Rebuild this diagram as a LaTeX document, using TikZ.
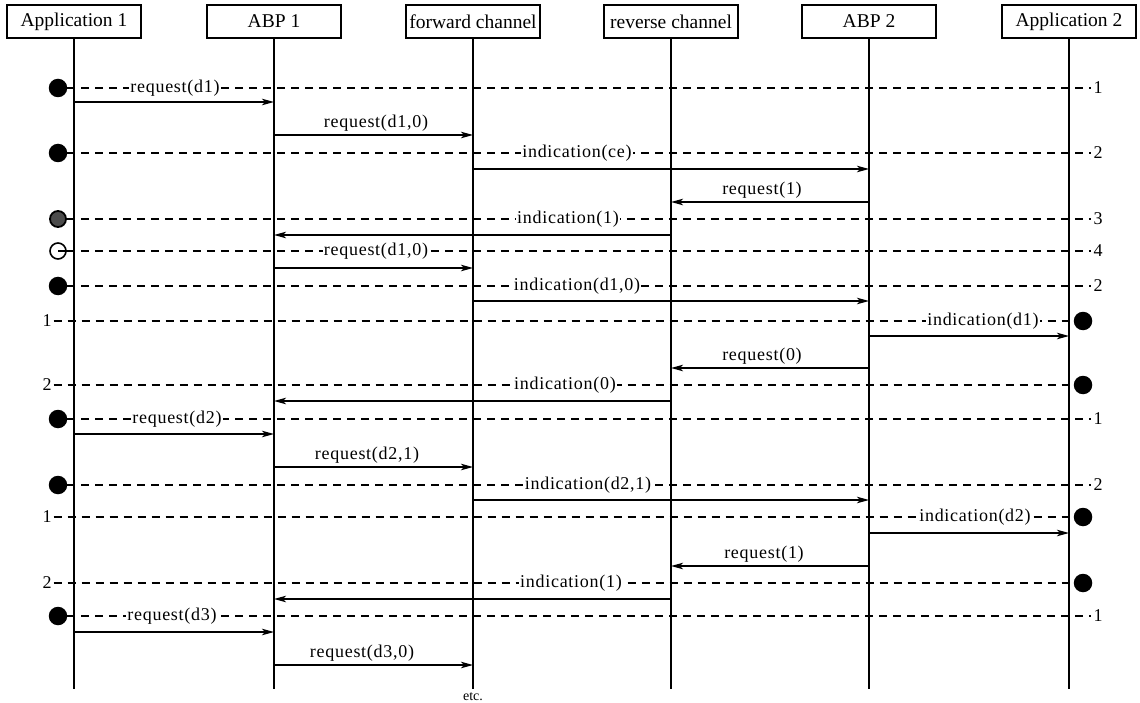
\documentclass[tikz,border=0pt]{standalone}
\usepackage{fontspec}
\setmainfont{Liberation Serif}
\newfontfamily\lblfont{Liberation Serif}[LetterSpace=4]
\usetikzlibrary{arrows.meta}
\begin{document}
\begin{tikzpicture}[x=1pt,y=-1pt,
  head/.style={draw,line width=1.1pt,minimum width=134pt,minimum height=33pt,inner sep=0pt,font=\fontsize{19.5}{21}\selectfont},
  life/.style={line width=1.5pt},
  msg/.style={line width=1.3pt,-{Stealth[length=12pt,width=6.5pt,inset=3pt]}},
  tick/.style={line width=1.2pt,dash pattern=on 8pt off 6pt},
  lbl/.style={font=\lblfont\fontsize{18}{20}\selectfont,inner sep=1pt},
  onl/.style={lbl,fill=white},
  dot/.style={circle,fill=black,minimum size=18.5pt,inner sep=0pt},
  num/.style={font=\fontsize{18}{20}\selectfont,inner sep=2pt},
]
\useasboundingbox (0,0) rectangle (1140,703);

% participants
\node[head] (h1) at (74,21.5)   {Application 1};
\node[head] (h2) at (274,21.5)  {ABP 1};
\node[head] (h3) at (473,21.5)  {forward channel};
\node[head] (h4) at (671,21.5)  {reverse channel};
\node[head] (h5) at (869,21.5)  {ABP 2};
\node[head] (h6) at (1069,21.5) {Application 2};
\foreach \i in {1,...,6} \draw[life] (h\i.south) -- (h\i |- 0,689);

% state rows: left marker, right marker, dashed line
\newcommand\sline[2]{\draw[tick] (#1) -- (#2);}
\node[dot] (la) at (58,88) {};      \node[num] (ra) at (1098,88) {1};   \sline{la}{ra}
\node[dot] (lb) at (58,153) {};     \node[num] (rb) at (1098,153) {2};  \sline{lb}{rb}
\node[circle,draw,line width=1.8pt,fill=black!70,minimum size=16pt,inner sep=0pt] (lc) at (58,219) {};
\node[num] (rc) at (1098,219) {3};  \sline{lc}{rc}
\node[circle,draw,line width=1.6pt,minimum size=16pt,inner sep=0pt] (ld) at (58,251) {};
\draw[line width=1.3pt] (ld.center) -- (ld.east);
\node[num] (rd) at (1098,251) {4};  \sline{ld}{rd}
\node[dot] (le) at (58,286) {};     \node[num] (re) at (1098,286) {2};  \sline{le}{re}
\node[num] (lf) at (47,321) {1};    \node[dot] (rf) at (1083,321) {};   \sline{lf}{rf}
\node[num] (lg) at (47,385) {2};    \node[dot] (rg) at (1083,385) {};   \sline{lg}{rg}
\node[dot] (lh) at (58,419) {};     \node[num] (rh) at (1098,419) {1};  \sline{lh}{rh}
\node[dot] (li) at (58,485) {};     \node[num] (ri) at (1098,485) {2};  \sline{li}{ri}
\node[num] (lj) at (47,517) {1};    \node[dot] (rj) at (1083,517) {};   \sline{lj}{rj}
\node[num] (lk) at (47,583) {2};    \node[dot] (rk) at (1083,583) {};   \sline{lk}{rk}
\node[dot] (ll) at (58,616) {};     \node[num] (rl) at (1098,616) {1};  \sline{ll}{rl}

% labels sitting on the state rows
\node[onl] (ta) at (175,88)  {request(d1)};
\node[onl] (tb) at (577,153) {indication(ce)};
\node[onl] (tc) at (568,219) {indication(1)};
\node[onl] (td) at (376,251) {request(d1,0)};
\node[onl] (te) at (577,286) {indication(d1,0)};
\node[onl] (tf) at (983,321) {indication(d1)};
\node[onl] (tg) at (565,385) {indication(0)};
\node[onl] (th) at (177,419) {request(d2)};
\node[onl] (ti) at (588,485) {indication(d2,1)};
\node[onl] (tj) at (975,517) {indication(d2)};
\node[onl] (tk) at (571,583) {indication(1)};
\node[onl] (tl) at (172,616) {request(d3)};

% labels above messages
\node[lbl] (ua) at (376,123) {request(d1,0)};
\node[lbl] (ub) at (762,190) {request(1)};
\node[lbl] (uc) at (762,356) {request(0)};
\node[lbl] (ud) at (367,455) {request(d2,1)};
\node[lbl] (ue) at (764,554) {request(1)};
\node[lbl] (uf) at (362,653) {request(d3,0)};

% messages
\newcommand\msgarrow[3]{\draw[msg] (h#1 |- 0,#3) -- (h#2 |- 0,#3);}
\msgarrow{1}{2}{102}
\msgarrow{2}{3}{135}
\msgarrow{3}{5}{169}
\msgarrow{5}{4}{202}
\msgarrow{4}{2}{235}
\msgarrow{2}{3}{268}
\msgarrow{3}{5}{301}
\msgarrow{5}{6}{336}
\msgarrow{5}{4}{368}
\msgarrow{4}{2}{401}
\msgarrow{1}{2}{434}
\msgarrow{2}{3}{467}
\msgarrow{3}{5}{500}
\msgarrow{5}{6}{533}
\msgarrow{5}{4}{566}
\msgarrow{4}{2}{599}
\msgarrow{1}{2}{632}
\msgarrow{2}{3}{665}

\node[font=\fontsize{14}{16}\selectfont,inner sep=0pt] (etc) at (473,697) {etc.};
\end{tikzpicture}
\end{document}
